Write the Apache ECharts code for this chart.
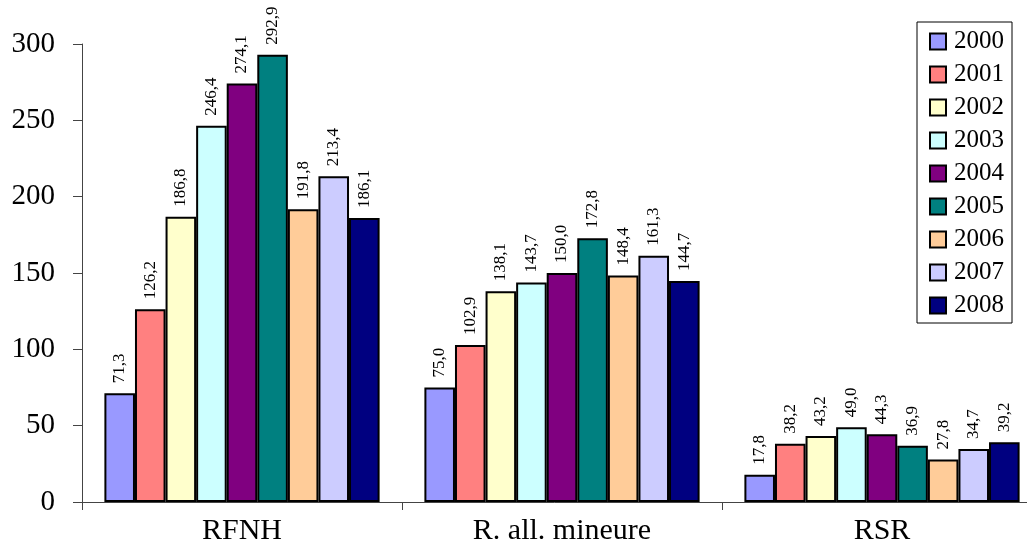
<!DOCTYPE html>
<html>
<head>
<meta charset="utf-8">
<script src="https://cdn.jsdelivr.net/npm/echarts@6/dist/echarts.min.js"></script>
<style>
  html, body { margin: 0; padding: 0; background: #fff; }
  #chart { width: 1027px; height: 550px; }
</style>
</head>
<body>
<div id="chart"></div>
<script>
// Categories and yearly values
const categories = ['RFNH', 'R. all. mineure', 'RSR'];
const years = ['2000', '2001', '2002', '2003', '2004', '2005', '2006', '2007', '2008'];
const v2000 = [71.3, 75.0, 17.8];
const v2001 = [126.2, 102.9, 38.2];
const v2002 = [186.8, 138.1, 43.2];
const v2003 = [246.4, 143.7, 49.0];
const v2004 = [274.1, 150.0, 44.3];
const v2005 = [292.9, 172.8, 36.9];
const v2006 = [191.8, 148.4, 27.8];
const v2007 = [213.4, 161.3, 34.7];
const v2008 = [186.1, 144.7, 39.2];
const yearValues = [v2000, v2001, v2002, v2003, v2004, v2005, v2006, v2007, v2008];
const colors = ['#9999FF', '#FF8080', '#FFFFCC', '#CCFFFF', '#800080', '#008080', '#FFCC99', '#CCCCFF', '#000080'];

const serif = '"Liberation Serif", "Times New Roman", serif';

const series = years.map((y, i) => ({
  name: y,
  type: 'bar',
  data: yearValues[i],
  barGap: '0%',
  barCategoryGap: '14%',
  itemStyle: { color: colors[i], borderColor: '#000', borderWidth: 2 },
  label: {
    show: true,
    position: 'top',
    rotate: 90,
    align: 'left',
    verticalAlign: 'middle',
    distance: 10,
    color: '#000',
    fontFamily: serif,
    fontSize: 17,
    formatter: p => p.value.toFixed(1).replace('.', ',')
  }
}));

const chart = echarts.init(document.getElementById('chart'), null, { renderer: 'canvas' });
chart.setOption({
  animation: false,
  backgroundColor: '#fff',
  // the plot area runs a little past the right edge of the page
  grid: { left: 82, width: 960, top: 44, bottom: 48, containLabel: false, outerBoundsMode: 'none' },
  legend: {
    orient: 'vertical',
    left: 917,
    top: 22,
    width: 100,
    padding: [7, 8, 5, 12],
    itemWidth: 16,
    itemHeight: 16,
    itemGap: 8,
    icon: 'rect',
    borderColor: '#000',
    borderWidth: 1,
    backgroundColor: '#fff',
    textStyle: { fontFamily: serif, fontSize: 25, color: '#000', padding: [0, 0, 0, 3] },
    data: years
  },
  xAxis: {
    type: 'category',
    data: categories,
    boundaryGap: true,
    axisLine: { lineStyle: { color: '#444', width: 1 } },
    axisTick: { show: true, alignWithLabel: false, length: 8, lineStyle: { color: '#444' } },
    axisLabel: { fontFamily: serif, fontSize: 30, color: '#000', margin: 14 }
  },
  yAxis: {
    type: 'value',
    min: 0,
    max: 300,
    interval: 50,
    splitLine: { show: false },
    axisLine: { show: true, lineStyle: { color: '#444', width: 1 } },
    axisTick: { show: true, length: 9, lineStyle: { color: '#444' } },
    axisLabel: { fontFamily: serif, fontSize: 29, color: '#000', margin: 27 }
  },
  series: series
});
</script>
</body>
</html>
